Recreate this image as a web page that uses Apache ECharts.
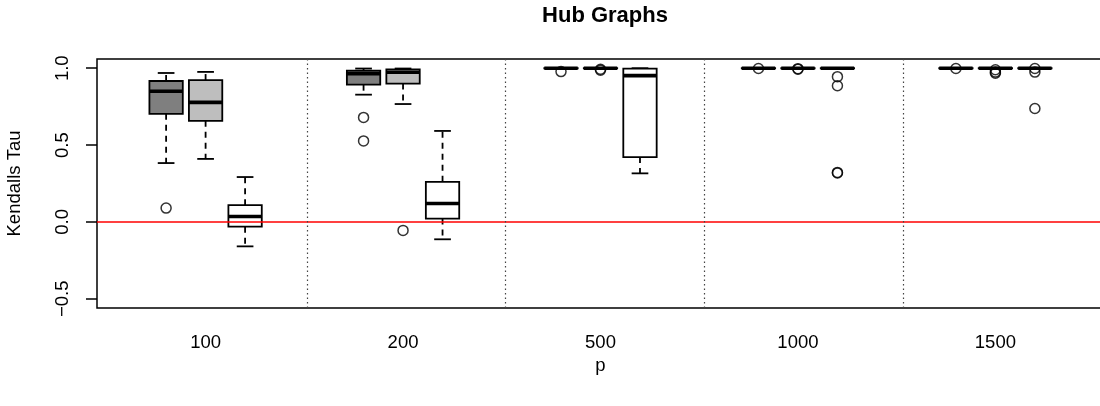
<!DOCTYPE html>
<html>
<head>
<meta charset="utf-8">
<script src="https://cdn.jsdelivr.net/npm/echarts@6/dist/echarts.min.js"></script>
<style>html,body{margin:0;padding:0;background:#fff}#c{width:1100px;height:406px}</style>
</head>
<body>
<div id="c"></div>
<script>
// Group labels (p)
const groupLabels = ['100', '200', '500', '1000', '1500'];
// y tick labels
const yTicks = [-0.5, 0.0, 0.5, 1.0];
// Box statistics per method: [lower whisker, Q1, median, Q3, upper whisker] for each p
const method1Stats = [
  [0.383, 0.703, 0.850, 0.917, 0.969],
  [0.828, 0.893, 0.965, 0.985, 0.998],
  [0.997, 0.999, 1.000, 1.000, 1.000],
  [0.998, 0.999, 1.000, 1.000, 1.000],
  [0.998, 0.999, 1.000, 1.000, 1.000]
];
const method2Stats = [
  [0.410, 0.658, 0.778, 0.923, 0.976],
  [0.767, 0.900, 0.974, 0.993, 0.998],
  [0.997, 0.999, 1.000, 1.000, 1.000],
  [0.998, 0.999, 1.000, 1.000, 1.000],
  [0.997, 0.999, 1.000, 1.000, 1.000]
];
const method3Stats = [
  [-0.159, -0.031, 0.035, 0.109, 0.292],
  [-0.113, 0.022, 0.120, 0.261, 0.592],
  [0.316, 0.422, 0.952, 0.998, 1.000],
  [0.998, 0.999, 1.000, 1.000, 1.000],
  [0.998, 0.999, 1.000, 1.000, 1.000]
];
// Outliers per method, per p
const method1Outliers = [[0.090], [0.680, 0.527], [0.978], [0.998], [0.998]];
const method2Outliers = [[], [-0.055], [0.993, 0.987], [0.997, 0.994], [0.990, 0.975, 0.968]];
const method3Outliers = [[], [], [], [0.945, 0.886, 0.322, 0.318], [0.998, 0.975, 0.738]];
// Group separators (x positions of the dotted lines, in box-index units)
const separators = [4.58, 9.6, 14.63, 19.66];

const methodStats = [method1Stats, method2Stats, method3Stats];
const methodOutliers = [method1Outliers, method2Outliers, method3Outliers];
const fills = ['#7f7f7f', '#bebebe', '#ffffff'];

const FONT = 'Liberation Sans, Arial, sans-serif';
const posOf = (g, m) => g * 5 + m + 1;

const boxData = [];
const outlierData = [];
methodStats.forEach((stats, m) => {
  stats.forEach((s, g) => {
    boxData.push([posOf(g, m)].concat(s).concat([m]));
    methodOutliers[m][g].forEach(v => outlierData.push([posOf(g, m), v]));
  });
});
const labelPositions = groupLabels.map((_, g) => posOf(g, 1));
const separatorLines = separators.map(v => ({ xAxis: v, lineStyle: { color: '#444', width: 1.2, type: [1.5, 3] } }));

const chart = echarts.init(document.getElementById('c'), null, { renderer: 'canvas' });
chart.setOption({
  animation: false,
  backgroundColor: '#fff',
  title: {
    text: 'Hub Graphs', left: 600, textAlign: 'center', top: 0,
    textStyle: { fontFamily: FONT, fontWeight: 'bold', fontSize: 22, color: '#000' }
  },
  grid: {
    left: 97, right: -4, top: 59, bottom: 98, outerBoundsMode: 'none', containLabel: false,
    show: true, borderColor: '#000', borderWidth: 1.5, backgroundColor: 'transparent'
  },
  xAxis: {
    type: 'value', min: -0.75, max: 24.75,
    name: 'p', nameLocation: 'middle', nameGap: 46,
    nameTextStyle: { fontFamily: FONT, fontSize: 18.5, color: '#000' },
    axisLine: { show: false }, axisTick: { show: false }, splitLine: { show: false },
    axisLabel: {
      customValues: labelPositions, margin: 25,
      fontFamily: FONT, fontSize: 18.5, color: '#000',
      formatter: v => groupLabels[labelPositions.indexOf(v)] || ''
    }
  },
  yAxis: {
    type: 'value', min: -0.56, max: 1.06,
    name: 'Kendalls Tau', nameLocation: 'middle', nameGap: 73, nameRotate: 90,
    nameTextStyle: { fontFamily: FONT, fontSize: 18.5, color: '#000' },
    axisLine: { show: false, onZero: false }, splitLine: { show: false },
    axisTick: { show: true, inside: false, customValues: yTicks, length: 11, lineStyle: { color: '#000', width: 1.5 } },
    axisLabel: {
      customValues: yTicks, rotate: 90, margin: 25,
      fontFamily: FONT, fontSize: 18.5, color: '#000',
      formatter: v => v.toFixed(1).replace('-', '\u2212')
    }
  },
  series: [
    {
      type: 'line', data: [], z: 1, silent: true,
      markLine: {
        silent: true, symbol: 'none', animation: false,
        label: { show: false },
        data: [
          { yAxis: 0, lineStyle: { color: '#ff0000', width: 1.6, type: 'solid' } }
        ].concat(separatorLines)
      }
    },
    {
      type: 'custom', z: 2, silent: true,
      data: boxData,
      encode: { x: 0, y: [1, 2, 3, 4, 5] },
      renderItem: function (params, api) {
        const x = api.value(0);
        const lo = api.coord([x, api.value(1)]);
        const q1 = api.coord([x, api.value(2)]);
        const md = api.coord([x, api.value(3)]);
        const q3 = api.coord([x, api.value(4)]);
        const hi = api.coord([x, api.value(5)]);
        const w = api.size([0.845, 0])[0];
        const cx = lo[0];
        const fill = fills[api.value(6)];
        const lw = 1.8;
        const dash = { stroke: '#000', lineWidth: lw, lineDash: [6, 5] };
        const solid = { stroke: '#000', lineWidth: lw };
        return {
          type: 'group',
          children: [
            { type: 'line', shape: { x1: cx, y1: q3[1], x2: cx, y2: hi[1] }, style: dash },
            { type: 'line', shape: { x1: cx, y1: q1[1], x2: cx, y2: lo[1] }, style: dash },
            { type: 'line', shape: { x1: cx - w / 4, y1: hi[1], x2: cx + w / 4, y2: hi[1] }, style: solid },
            { type: 'line', shape: { x1: cx - w / 4, y1: lo[1], x2: cx + w / 4, y2: lo[1] }, style: solid },
            { type: 'rect', shape: { x: cx - w / 2, y: q3[1], width: w, height: q1[1] - q3[1] }, style: { fill: fill, stroke: '#000', lineWidth: lw } },
            { type: 'line', shape: { x1: cx - w / 2, y1: md[1], x2: cx + w / 2, y2: md[1] }, style: { stroke: '#000', lineWidth: 3.6 } }
          ]
        };
      }
    },
    {
      type: 'scatter', z: 3, silent: true,
      data: outlierData,
      symbol: 'circle', symbolSize: 10,
      itemStyle: { color: 'rgba(0,0,0,0)', borderColor: '#000', borderWidth: 1.5 }
    }
  ]
});
</script>
</body>
</html>
